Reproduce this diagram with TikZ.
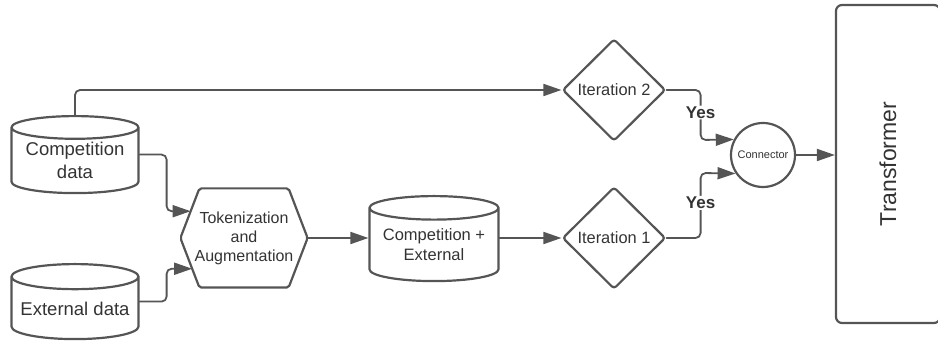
\documentclass[tikz,border=0pt]{standalone}
\usepackage{fontspec}
\setmainfont{Liberation Sans}
\usepackage{tikz}
\usetikzlibrary{arrows.meta,shapes.geometric,calc}
\definecolor{linegray}{HTML}{555555}
\definecolor{textgray}{HTML}{333333}

\begin{document}
\begin{tikzpicture}[x=1pt,y=1pt,line cap=round,line join=round,
    >={Triangle[length=18pt,width=12pt]},
    box/.style={draw=linegray,line width=2.2pt,text=textgray,align=center,inner sep=0pt},
    store/.style={box,cylinder,shape border rotate=90,aspect=0.23,anchor=north},
    choice/.style={box,diamond,rounded corners=3pt,minimum width=103pt,minimum height=102pt,font=\fontsize{16.4}{19}\selectfont},
    flow/.style={->,draw=linegray,line width=1.8pt,rounded corners=5pt},
    yes/.style={fill=white,text=textgray,font=\fontsize{17}{20}\selectfont\bfseries,inner sep=1pt}]
    \useasboundingbox (0,0) rectangle (938,342);
    % data stores
    \node[store,minimum width=127pt,minimum height=77pt,font=\fontsize{18.5}{23}\selectfont] (comp) at (75,227) {Competition\\data};
    \node[store,minimum width=127pt,minimum height=75pt,font=\fontsize{18.5}{23}\selectfont] (ext) at (75,79) {External data};
    \node[store,minimum width=129pt,minimum height=85pt,font=\fontsize{16.5}{20}\selectfont] (merged) at (434,147) {Competition +\\External};
    \coordinate (compout) at ($(comp.north)!0.5!(comp.south)$);
    \coordinate (extout) at ($(ext.north)!0.5!(ext.south)$);
    % hexagon
    \node[box,draw=none,minimum width=125pt,minimum height=97pt,font=\fontsize{16}{19}\selectfont] (tok) at (244,104) {Tokenization\\and\\Augmentation};
    \draw[draw=linegray,line width=2.2pt,rounded corners=2pt] (tok.west) -- ([xshift=19pt]tok.north west) -- ([xshift=-19pt]tok.north east) -- (tok.east) -- ([xshift=-19pt]tok.south east) -- ([xshift=19pt]tok.south west) -- cycle;
    \coordinate (tokup) at ($(tok.west)!0.54!([xshift=19pt]tok.north west)$);
    \coordinate (toklow) at ($(tok.west)!0.62!([xshift=19pt]tok.south west)$);
    % decisions
    \node[choice] (itone) at (614,104) {Iteration 1};
    \node[choice] (ittwo) at (614,252) {Iteration 2};
    \node[box,circle,minimum size=64pt,font=\fontsize{11}{13}\selectfont] (conn) at (763,187) {Connector};
    \node[box,rounded corners=6pt,minimum width=104pt,minimum height=318pt] (trans) at (888,178) {};
    \node[rotate=90,text=textgray,font=\fontsize{23}{27}\selectfont] (transtext) at (trans.center) {Transformer};
    % connectors
    \draw[flow] (comp.north) |- (ittwo.west);
    \draw[flow] (compout -| comp.east) -- ++(27,0) |- (tokup);
    \draw[flow] (extout -| ext.east) -- ++(27,0) |- (toklow);
    \draw[flow] (tok.east) -- (tok.east -| merged.west);
    \draw[flow] (itone.west -| merged.east) -- (itone.west);
    \draw[flow] (ittwo.east) -- ++(34,0) -- ++(0,-50) node[pos=0.45,yes] {Yes} -- (conn.152);
    \draw[flow] (itone.east) -- ++(34,0) -- ++(0,65) node[pos=0.54,yes] {Yes} -- (conn.214);
    \draw[flow] (conn.east) -- (conn.east -| trans.west);
\end{tikzpicture}
\end{document}
